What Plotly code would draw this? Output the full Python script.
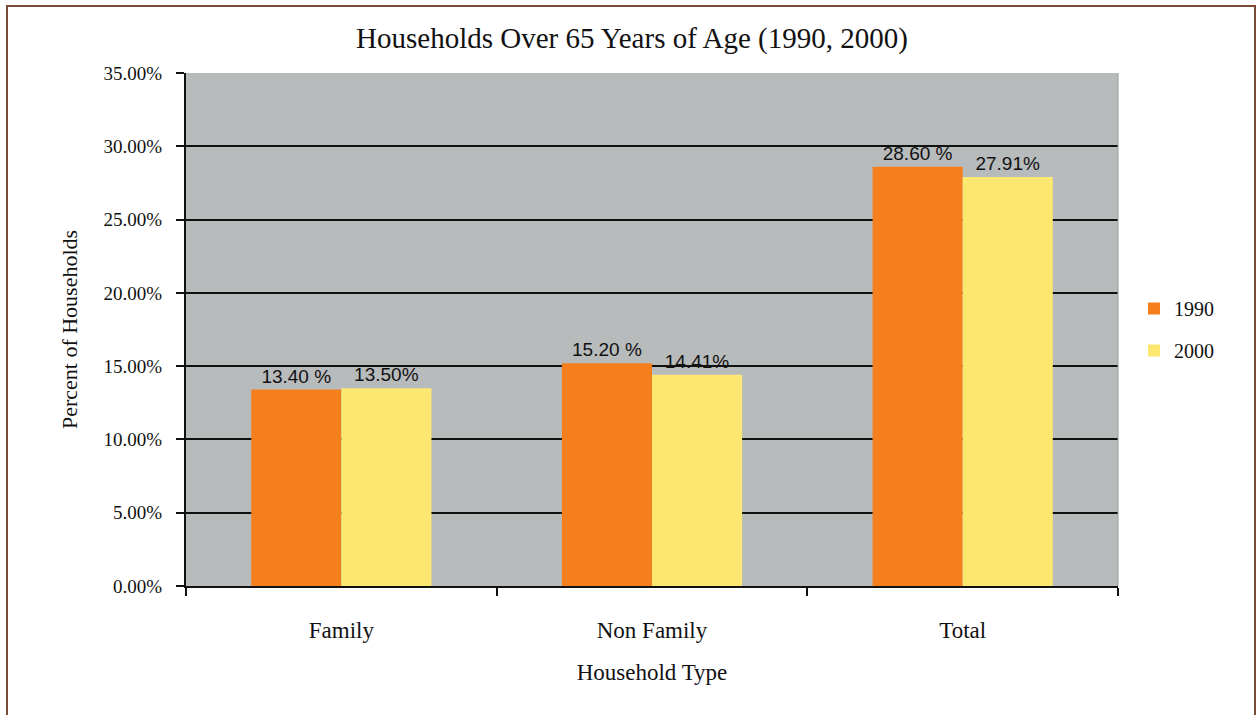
import plotly.graph_objects as go

categories = ["Family", "Non Family", "Total"]
series_names = ["1990", "2000"]
values_1990 = [13.40, 15.20, 28.60]
values_2000 = [13.50, 14.41, 27.91]
y_tick_values = [0, 5, 10, 15, 20, 25, 30, 35]
y_tick_labels = [f"{v:.2f}%" for v in y_tick_values]

W, H = 1258, 715
ML, MR, MT, MB = 186, 140, 73, 129
PW, PH = W - ML - MR, H - MT - MB

def px_x(x):
    return (x - ML) / PW

def px_y(y):
    return (H - MB - y) / PH

ORANGE = "#F57F1C"
YELLOW = "#FCE870"
label_font = dict(family="Liberation Sans", size=19, color="#111111")

fig = go.Figure()
fig.add_trace(go.Bar(
    name=series_names[0], x=categories, y=values_1990,
    marker=dict(color=ORANGE, line=dict(width=0)),
    texttemplate="%{y:.2f} %", textposition="outside", textfont=label_font,
    cliponaxis=False, legendgroup="a",
))
fig.add_trace(go.Bar(
    name=series_names[1], x=categories, y=values_2000,
    marker=dict(color=YELLOW, line=dict(width=0)),
    texttemplate="%{y:.2f}%", textposition="outside", textfont=label_font,
    cliponaxis=False, legendgroup="b",
))

serif = "Liberation Serif"
fig.update_layout(
    width=W, height=H,
    margin=dict(l=ML, r=MR, t=MT, b=MB),
    paper_bgcolor="white",
    plot_bgcolor="#B8BBBC",
    barmode="group",
    bargap=0.42,
    bargroupgap=0,
    title=dict(text="Households Over 65 Years of Age (1990, 2000)",
               x=632 / W, xanchor="center", y=1 - 38 / H, yanchor="middle",
               font=dict(family=serif, size=29, color="#111111")),
    legend=dict(x=px_x(1134), y=px_y(289), xanchor="left", yanchor="top",
                font=dict(family=serif, size=20, color="#111111"),
                bgcolor="rgba(0,0,0,0)", traceorder="grouped",
                tracegroupgap=13, itemwidth=30),
    showlegend=True,
    xaxis=dict(
        type="category",
        tickson="boundaries",
        ticks="outside", ticklen=8, tickcolor="#111111", tickwidth=1.5,
        showline=True, linecolor="#111111", linewidth=2,
        showgrid=False,
        ticklabelstandoff=22,
        tickfont=dict(family=serif, size=23, color="#111111"),
        title=dict(text="Household Type", standoff=22,
                   font=dict(family=serif, size=23, color="#111111")),
    ),
    yaxis=dict(
        range=[0, 35],
        tickvals=y_tick_values,
        ticktext=y_tick_labels,
        ticks="outside", ticklen=8, tickcolor="#111111", tickwidth=1.5,
        showline=True, linecolor="#111111", linewidth=2,
        showgrid=True, gridcolor="#111111", gridwidth=1.5,
        zeroline=False,
        ticklabelstandoff=10,
        tickfont=dict(family=serif, size=19, color="#111111"),
        title=dict(text="Percent of Households", standoff=20,
                   font=dict(family=serif, size=22, color="#111111")),
    ),
    shapes=[
        dict(type="rect", xref="paper", yref="paper",
             x0=px_x(7), x1=px_x(1255), y0=px_y(730), y1=px_y(6),
             line=dict(color="#7A4A38", width=2), fillcolor="rgba(0,0,0,0)",
             layer="below"),
        dict(type="line", xref="paper", yref="paper",
             x0=1, x1=1, y0=0, y1=1,
             line=dict(color="#9A9D9E", width=1)),
    ],
)

fig.write_html("out.html")
